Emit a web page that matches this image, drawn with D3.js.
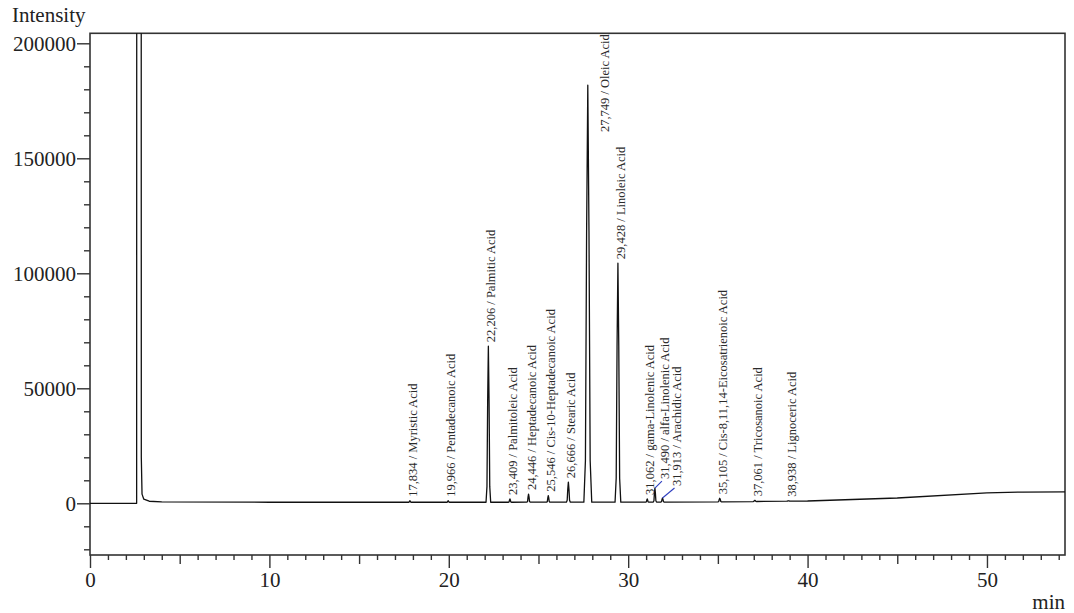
<!DOCTYPE html>
<html>
<head>
<meta charset="utf-8">
<script src="https://cdn.jsdelivr.net/npm/d3@7"></script>
<style>
  html, body { margin: 0; padding: 0; background: #fff; }
  svg { display: block; }
  .axis text { font-family: "Liberation Serif", "Times New Roman", serif; font-size: 21px; fill: #222; }
  .axis line { stroke: #333; stroke-width: 1.4; }
  .plabel { font-family: "Liberation Serif", "Times New Roman", serif; font-size: 12.5px; fill: #2a2a2a; }
</style>
</head>
<body>
<svg id="chart" width="1074" height="613"></svg>
<script>
// ---- Data ----
const peakRT = [17.834, 19.966, 22.206, 23.409, 24.446, 25.546, 26.666, 27.749, 29.428, 31.062, 31.490, 31.913, 35.105, 37.061, 38.938];
const peakNames = ["Myristic Acid", "Pentadecanoic Acid", "Palmitic Acid", "Palmitoleic Acid", "Heptadecanoic Acid",
  "Cis-10-Heptadecanoic Acid", "Stearic Acid", "Oleic Acid", "Linoleic Acid", "gama-Linolenic Acid",
  "alfa-Linolenic Acid", "Arachidic Acid", "Cis-8,11,14-Eicosatrienoic Acid", "Tricosanoic Acid", "Lignoceric Acid"];
const peakHeight = [1100, 1100, 68300, 1900, 4000, 3300, 9200, 181800, 104400, 1900, 6600, 2300, 2200, 1300, 1100];
const peakHalfWidth = [0.08, 0.08, 0.13, 0.08, 0.09, 0.09, 0.11, 0.22, 0.16, 0.08, 0.09, 0.09, 0.10, 0.10, 0.10];

// baseline trace incl. solvent front (minutes, intensity)
const baseT = [0, 2.60, 2.62, 2.84, 2.86, 2.90, 3.00, 3.30, 4.00, 10, 20, 30, 35, 40, 45, 50, 52, 54.4];
const baseV = [0, 0, 900000, 900000, 20000, 4000, 1800, 900, 600, 450, 450, 500, 600, 1000, 2300, 4500, 4900, 5000];

// axis ticks
const yMajorTicks = [0, 50000, 100000, 150000, 200000];
const xMajorTicks = [0, 10, 20, 30, 40, 50];

// peak shape profile (offset in half-widths, fraction of height)
const profOff = [-1, -0.6, -0.3, 0, 0.3, 0.6, 1];
const profFrac = [0, 0.1, 0.65, 1, 0.65, 0.1, 0];

// ---- Layout ----
const W = 1074, H = 613;
const L = 90, R = 1065, T = 33.3, B = 555;
const x = d3.scaleLinear().domain([0, 54.35]).range([L, R]);
const y = d3.scaleLinear().domain([-22478, 204348]).range([B, T]);

// label nudges (pixels) for crowded peaks
const labelNudge = {
  7: { dx: 17, bottomValue: 161400 },
  10: { dx: 10, dy: -5, connector: true },
  11: { dx: 15, dy: -8, connector: true }
};

const svg = d3.select("#chart");

svg.append("defs").append("clipPath").attr("id", "plotclip")
  .append("rect").attr("x", L).attr("y", T).attr("width", R - L).attr("height", B - T);

// ---- Build trace ----
const baseAt = d3.scaleLinear().domain(baseT).range(baseV).clamp(true);
const prof = d3.scaleLinear().domain(profOff).range(profFrac).clamp(true);
let times = baseT.slice();
peakRT.forEach((rt, i) => profOff.forEach(o => times.push(rt + o * peakHalfWidth[i])));
times = Array.from(new Set(times)).sort((a, b) => a - b);
const trace = times.map(t => {
  let v = baseAt(t);
  peakRT.forEach((rt, i) => {
    const o = (t - rt) / peakHalfWidth[i];
    if (o > -1 && o < 1) v += (peakHeight[i] - baseAt(rt)) * prof(o);
  });
  return [t, v];
});

// ---- Axes ----
const yMinor = d3.range(-20000, 200001, 10000).filter(v => !yMajorTicks.includes(v));
svg.append("g").attr("class", "axis").attr("transform", `translate(${L},0)`)
  .call(d3.axisLeft(y).tickValues(yMinor).tickSize(6).tickFormat(""))
  .call(g => g.select(".domain").remove());
svg.append("g").attr("class", "axis").attr("transform", `translate(${L},0)`)
  .call(d3.axisLeft(y).tickValues(yMajorTicks).tickSize(13).tickPadding(1).tickFormat(d3.format("d")))
  .call(g => g.select(".domain").remove());

const xMinor = d3.range(0, 55, 1).filter(v => v % 5 !== 0);
const xMid = d3.range(5, 55, 10);
svg.append("g").attr("class", "axis").attr("transform", `translate(0,${B})`)
  .call(d3.axisBottom(x).tickValues(xMinor).tickSize(5).tickFormat(""))
  .call(g => g.select(".domain").remove());
svg.append("g").attr("class", "axis").attr("transform", `translate(0,${B})`)
  .call(d3.axisBottom(x).tickValues(xMid).tickSize(9).tickFormat(""))
  .call(g => g.select(".domain").remove());
svg.append("g").attr("class", "axis").attr("transform", `translate(0,${B})`)
  .call(d3.axisBottom(x).tickValues(xMajorTicks).tickSize(13).tickPadding(4).tickFormat(d3.format("d")))
  .call(g => g.select(".domain").remove());

// frame
svg.append("rect").attr("x", L).attr("y", T).attr("width", R - L).attr("height", B - T)
  .attr("fill", "none").attr("stroke", "#333").attr("stroke-width", 1.6);

// axis titles
svg.append("text").attr("x", 12).attr("y", 22).attr("class", "axis")
  .style("font-family", "Liberation Serif, serif").style("font-size", "21px").style("fill", "#222").text("Intensity");
svg.append("text").attr("x", R).attr("y", 609).attr("text-anchor", "end")
  .style("font-family", "Liberation Serif, serif").style("font-size", "21px").style("fill", "#222").text("min");

// ---- Trace ----
svg.append("path").datum(trace)
  .attr("clip-path", "url(#plotclip)")
  .attr("fill", "none").attr("stroke", "#111").attr("stroke-width", 1.3)
  .attr("stroke-linejoin", "round")
  .attr("d", d3.line().x(d => x(d[0])).y(d => y(d[1])));

// ---- Peak labels ----
const fmtRT = d3.format(".3f");
peakRT.forEach((rt, i) => {
  const n = labelNudge[i] || {};
  const apexX = x(rt), apexY = y(peakHeight[i]);
  const lx = apexX + (n.dx !== undefined ? n.dx : 3);
  const ly = n.bottomValue !== undefined ? y(n.bottomValue) : apexY - 4 + (n.dy || 0);
  if (n.connector) {
    svg.append("line").attr("x1", apexX).attr("y1", apexY)
      .attr("x2", lx - 3).attr("y2", ly + 2)
      .attr("stroke", "#3040c0").attr("stroke-width", 1.1);
  }
  svg.append("text").attr("class", "plabel")
    .attr("transform", `translate(${lx},${ly}) rotate(-90)`)
    .attr("text-anchor", "start").attr("dominant-baseline", "central")
    .text(fmtRT(rt).replace(".", ",") + " / " + peakNames[i]);
});
</script>
</body>
</html>
